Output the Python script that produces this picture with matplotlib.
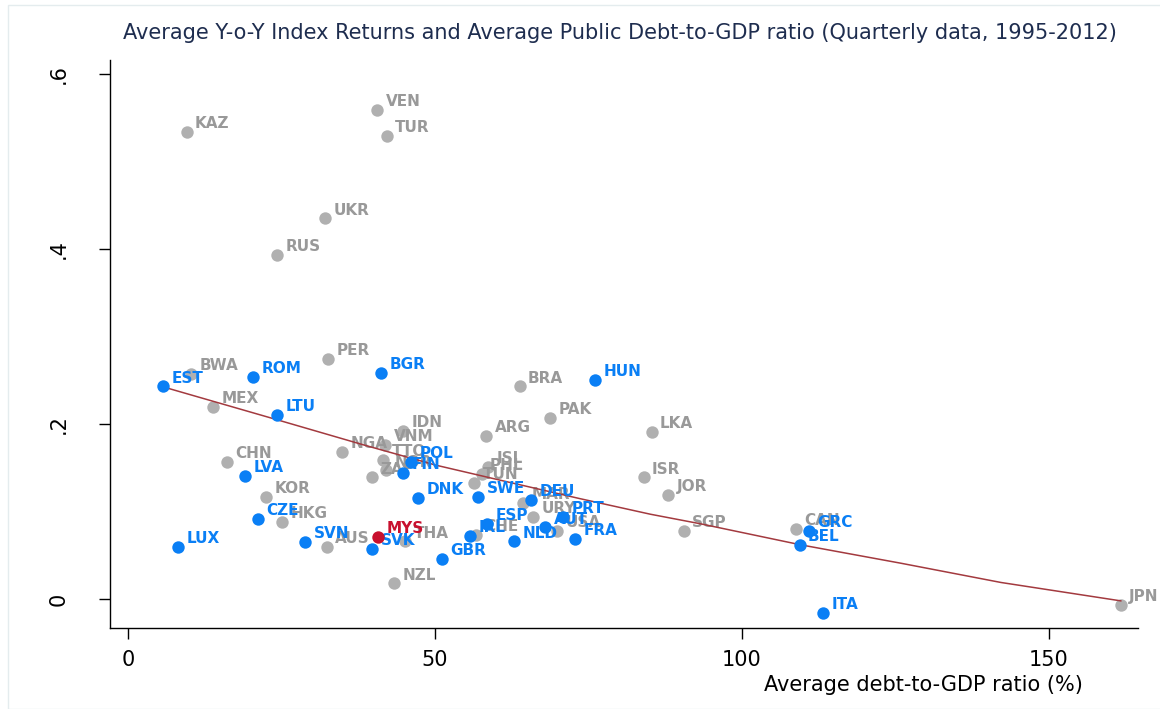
import matplotlib
matplotlib.use('Agg')
import matplotlib.pyplot as plt
from matplotlib.patches import Rectangle

# the reference type is rather wide, DejaVu gets closer to it than Arial-like fonts
plt.rcParams['font.family'] = ['DejaVu Sans']

# Countries outside the EU (grey)
other_names = ['KAZ', 'VEN', 'TUR', 'UKR', 'RUS', 'PER', 'BWA', 'MEX', 'BRA', 'PAK',
               'LKA', 'IDN', 'ARG', 'NGA', 'VNM', 'TTO', 'NOR', 'ZAF', 'ISL', 'PHL',
               'TUN', 'MAR', 'URY', 'USA', 'CHE', 'THA', 'AUS', 'NZL', 'CHN', 'KOR',
               'HKG', 'ISR', 'JOR', 'SGP', 'CAN', 'JPN']
other_debt = [9.6, 40.6, 42.2, 32.1, 24.3, 32.6, 10.3, 13.9, 63.8, 68.8,
              85.3, 44.8, 58.4, 34.9, 41.9, 41.6, 42.1, 39.8, 58.7, 57.6,
              56.4, 64.4, 66.0, 69.9, 56.7, 45.2, 32.4, 43.4, 16.1, 22.5,
              25.1, 84.0, 88.0, 90.5, 108.8, 161.7]
other_ret = [0.534, 0.559, 0.529, 0.435, 0.393, 0.274, 0.257, 0.220, 0.243, 0.207,
             0.191, 0.192, 0.186, 0.168, 0.176, 0.159, 0.147, 0.139, 0.151, 0.143,
             0.133, 0.110, 0.094, 0.078, 0.073, 0.066, 0.060, 0.018, 0.157, 0.117,
             0.088, 0.139, 0.119, 0.078, 0.080, -0.007]

# EU members (blue)
eu_names = ['EST', 'ROM', 'BGR', 'HUN', 'LTU', 'LVA', 'CZE', 'LUX', 'SVN', 'SVK',
            'POL', 'FIN', 'DNK', 'SWE', 'DEU', 'ESP', 'IRL', 'GBR', 'NLD', 'AUT',
            'PRT', 'FRA', 'GRC', 'BEL', 'ITA']
eu_debt = [5.7, 20.4, 41.3, 76.1, 24.3, 19.1, 21.2, 8.2, 28.9, 39.8,
           46.1, 44.8, 47.3, 57.1, 65.7, 58.5, 55.8, 51.2, 62.9, 68.0,
           70.9, 72.9, 110.9, 109.4, 113.2]
eu_ret = [0.243, 0.254, 0.258, 0.250, 0.210, 0.141, 0.092, 0.060, 0.065, 0.057,
          0.157, 0.144, 0.116, 0.117, 0.113, 0.086, 0.072, 0.046, 0.066, 0.082,
          0.094, 0.069, 0.078, 0.062, -0.016]

# Malaysia (highlighted)
mys_debt = [40.8]
mys_ret = [0.071]

# fitted line
fit_x = [5.7, 6.5, 23.3, 38.5, 50.2, 61.8, 73.5, 85.1, 93.3, 109.6, 125.9, 142.2, 161.7]
fit_y = [0.242, 0.241, 0.207, 0.176, 0.153, 0.134, 0.115, 0.097, 0.086, 0.062, 0.041, 0.019, -0.002]

grey_dot = '#b0b0b0'
grey_txt = '#999999'
blue = '#0a7ff5'
red = '#c8102e'
lab_size = 11

fig = plt.figure(figsize=(11.6, 7.09), dpi=100)
ax = fig.add_axes([110/1160, 1-628/709, (1138-110)/1160, (628-60)/709])

ax.scatter(other_debt, other_ret, s=80, color=grey_dot, linewidths=0, zorder=2)
for n, xx, yy in zip(other_names, other_debt, other_ret):
    ax.annotate(n, (xx, yy), xytext=(6, 6), textcoords='offset points',
                fontsize=lab_size, fontweight='bold', color=grey_txt, va='center', zorder=3)

ax.plot(fit_x, fit_y, color='#a33a3f', lw=1.1, zorder=4)

ax.scatter(eu_debt, eu_ret, s=80, color=blue, linewidths=0, zorder=5)
for n, xx, yy in zip(eu_names, eu_debt, eu_ret):
    ax.annotate(n, (xx, yy), xytext=(6, 6), textcoords='offset points',
                fontsize=lab_size, fontweight='bold', color=blue, va='center', zorder=6)

ax.scatter(mys_debt, mys_ret, s=80, color=red, linewidths=0, zorder=7)
ax.annotate('MYS', (mys_debt[0], mys_ret[0]), xytext=(6, 6), textcoords='offset points',
            fontsize=lab_size, fontweight='bold', color=red, va='center', zorder=8)

ax.set_xlim(-2.9, 164.5)
ax.set_ylim(-0.033, 0.616)
ax.set_xticks([0, 50, 100, 150])
ax.set_yticks([0, 0.2, 0.4, 0.6])
ax.set_yticklabels(['0', '.2', '.4', '.6'], rotation=90, va='center')
ax.tick_params(axis='both', length=8, width=1, direction='out', labelsize=15, colors='black')
ax.tick_params(axis='y', pad=22)
ax.tick_params(axis='x', pad=8)
ax.spines['top'].set_visible(False)
ax.spines['right'].set_visible(False)
ax.spines['left'].set_linewidth(1)
ax.spines['bottom'].set_linewidth(1)

fig.text(620/1160, 1-33/709, 'Average Y-o-Y Index Returns and Average Public Debt-to-GDP ratio (Quarterly data, 1995-2012)',
         ha='center', va='center', fontsize=15, color='#1e2d4f')
fig.text(1083/1160, 1-685/709, 'Average debt-to-GDP ratio (%)', ha='right', va='center', fontsize=15)

# faint frame around the figure
fig.patches.append(Rectangle((8/1160, 0), 1, 1-5/709, transform=fig.transFigure,
                             fill=False, edgecolor='#e4ecee', lw=1))

fig.savefig('out.png', dpi=100)
